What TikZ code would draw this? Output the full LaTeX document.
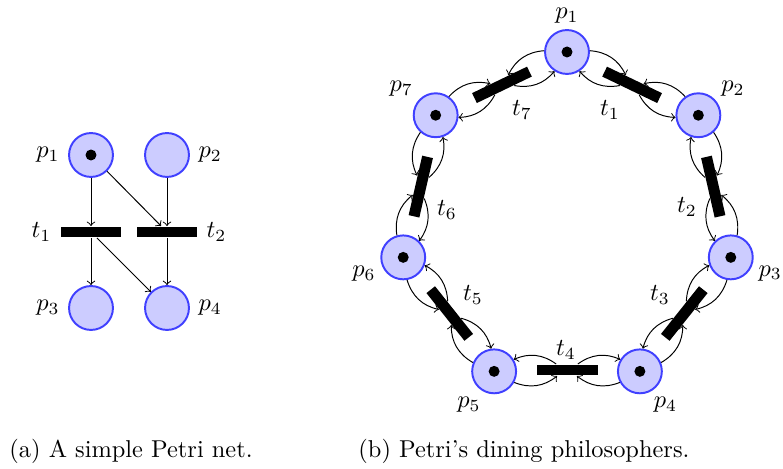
\documentclass[tikz,border=0pt]{standalone}
\usetikzlibrary{arrows,petri,calc,positioning}

\tikzset{
  place/.style={circle, draw=blue!75, fill=blue!20, thick, inner sep=0pt, minimum size=18pt},
  transition/.style={rectangle, fill=black, inner sep=0pt, minimum width=25pt, minimum height=4.5pt},
  token/.style={circle, fill=black, draw=none, inner sep=0pt, minimum size=4.5pt},
  arc/.style={->, thin},
  every label/.style={inner sep=1pt},
  label distance=2.33pt
}

\begin{document}
\begin{tikzpicture}[x=0.41pt, y=0.41pt]
  \useasboundingbox (0,0) rectangle (783,469);

  % (a) simple net
  \node[place, tokens=1, label=left:$p_1$] (p1) at (91,314) {};
  \node[place, label=right:$p_2$] (p2) at (167,314) {};
  \node[transition, label=left:$t_1$] (t1) at (91,237) {};
  \node[transition, label=right:$t_2$] (t2) at (167,237) {};
  \node[place, label=left:$p_3$] (p3) at (91,161) {};
  \node[place, label=right:$p_4$] (p4) at (167,161) {};

  \draw[arc] (p1) -- (t1);
  \draw[arc] (p1) -- (t2);
  \draw[arc] (p2) -- (t2);
  \draw[arc] (t1) -- (p3);
  \draw[arc] (t1) -- (p4);
  \draw[arc] (t2) -- (p4);

  % (b) dining philosophers
  \coordinate (hub) at (567,249);
  \foreach \i in {1,...,7} {
    \pgfmathsetmacro\a{90-(\i-1)*360/7}
    \node[place, tokens=1, label={[label distance=1pt]\a:$p_{\i}$}] (fork\i) at ($(hub)+(\a:168)$) {};
  }
  \foreach \i/\lx/\ly in {1/610/359, 2/687/262, 3/660/174, 4/566/119, 5/473/174, 6/447/259, 7/522/359} {
    \pgfmathsetmacro\b{90-(\i-0.5)*360/7}
    \node[transition, rotate=\b-90] (phil\i) at ($(hub)+(\b:150)$) {};
    \node (philname\i) at (\lx,\ly) {$t_{\i}$};
  }
  \foreach \i in {1,...,7} {
    \pgfmathtruncatemacro\j{mod(\i,7)+1}
    \draw[arc] (fork\i) to[bend left] (phil\i);
    \draw[arc] (phil\i) to[bend left] (fork\i);
    \draw[arc] (fork\j) to[bend right] (phil\i);
    \draw[arc] (phil\i) to[bend right] (fork\j);
  }

  % captions
  \node[anchor=base west, inner sep=0pt] (capa) at (9,11) {(a) A simple Petri net.};
  \node[anchor=base west, inner sep=0pt] (capb) at (358,11) {(b) Petri's dining philosophers.};
\end{tikzpicture}
\end{document}
